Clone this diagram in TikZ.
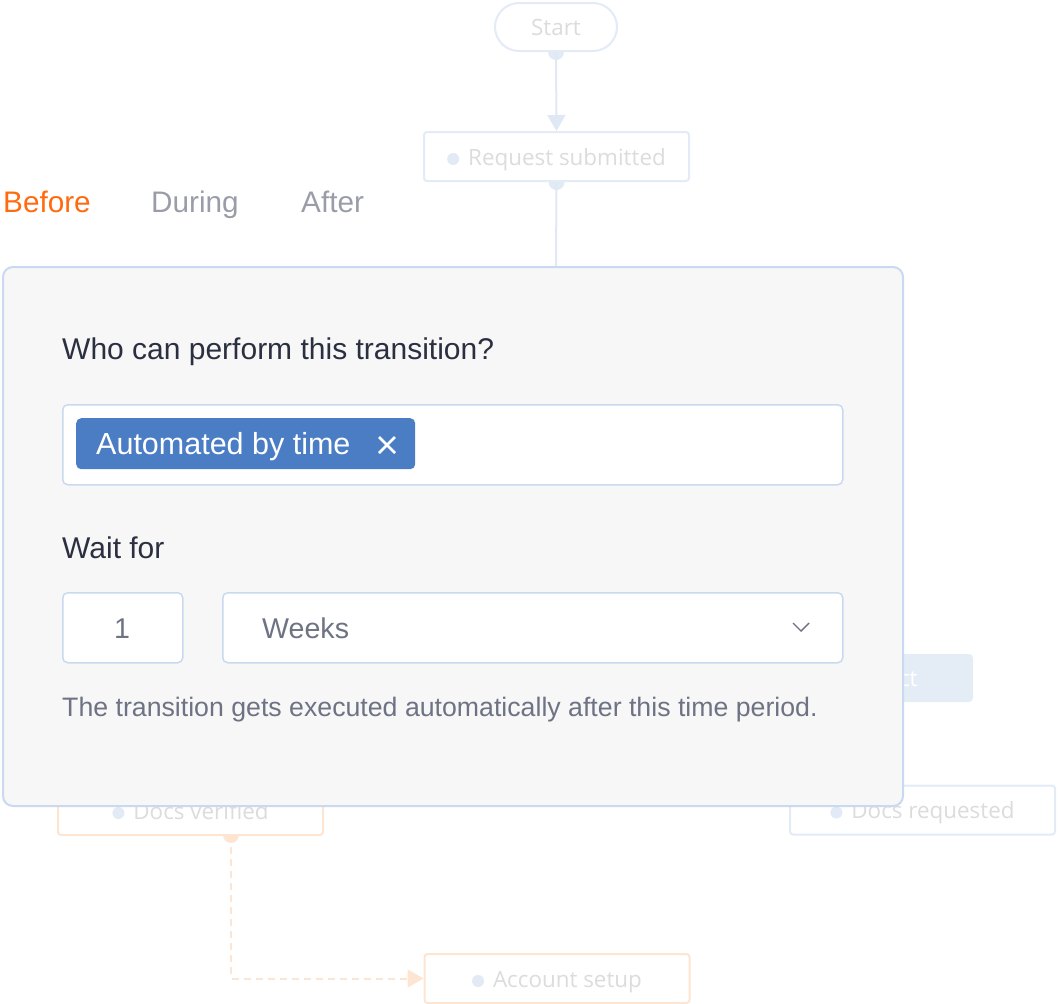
\documentclass[tikz,border=0pt]{standalone}
\usepackage{fontspec}
\setmainfont{Liberation Sans}
\newfontfamily\flowfont{Open Sans}
\usetikzlibrary{positioning,arrows.meta,backgrounds}

\definecolor{flowline}{HTML}{DFE8F4}
\definecolor{flowborder}{HTML}{E2EBF6}
\definecolor{flowtext}{HTML}{DCDCDC}
\definecolor{flowdot}{HTML}{E1EAF5}
\definecolor{peach}{HTML}{FDE5D2}
\definecolor{tabon}{HTML}{FF6A0E}
\definecolor{taboff}{HTML}{9A9DA8}
\definecolor{panelbg}{HTML}{F7F7F7}
\definecolor{panelline}{HTML}{C9DAF0}
\definecolor{darktext}{HTML}{2B3040}
\definecolor{greytext}{HTML}{6E7384}
\definecolor{chipblue}{HTML}{4A7DC4}
\definecolor{btnfill}{HTML}{E4ECF6}

\newcommand{\stdot}{{\tikz[baseline=-0.5ex]\fill[flowdot] (0,0) circle (6pt);}\hspace{9pt}}

\tikzset{
	state/.style={draw=flowborder,line width=2pt,fill=white,rounded corners=3pt,
		minimum width=265pt,minimum height=49pt,inner sep=0pt,text height=17pt,text depth=0pt,
		font=\flowfont\fontsize{22.4}{26}\selectfont,text=flowtext},
	field/.style={draw=panelline,line width=1.5pt,fill=white,rounded corners=5pt,
		anchor=north west,inner sep=0pt},
	label/.style={anchor=base west,inner sep=0pt,font=\fontsize{30}{34}\selectfont,text=darktext},
	tab/.style={anchor=base west,inner sep=0pt,font=\fontsize{29.7}{34}\selectfont,text=taboff},
	flow/.style={flowline,line width=2pt},
}

\begin{document}
\begin{tikzpicture}[x=1pt,y=-1pt]
	\useasboundingbox (0,0) rectangle (1058,1004);
	% flow chart behind the panel
	\node (start) [state,rounded corners=24pt,minimum width=122pt,minimum height=48pt] at (556,27) {Start};
	\node (req) [state] at (556.5,156.5) {\stdot Request submitted};
	\node (reject) [fill=btnfill,rounded corners=4pt,minimum width=174pt,minimum height=48pt,text height=17pt,text depth=0pt,
		font=\flowfont\fontsize{22.4}{26}\selectfont,text=white] at (886,678) {Reject};
	\node (verified) [state,draw=peach] at (190.5,810.5) {\stdot Docs verified};
	\node (requested) [state] at (922.5,810) {\stdot Docs requested};
	\node (acct) [state,draw=peach] at (557,978.5) {\stdot Account setup};
	\coordinate (reqdown) at (556,268);
	\coordinate (vout) at (231,835);
	\begin{scope}[on background layer]
		\fill[flowdot] (start.south) circle (8);
		\fill[flowdot] (req.south) circle (8);
		\fill[peach] (vout) circle (8);
		\draw[flow,-{Triangle[length=16pt,width=18pt]}] (start.south) -- (req.north);
		\draw[flow] (req.south) -- (reqdown);
		\draw[peach,line width=2pt,dash pattern=on 7pt off 5pt,-{Triangle[length=16pt,width=18pt]}] (vout) |- (acct.west);
	\end{scope}
	% tabs
	\node (before) [tab,text=tabon] at (3,212) {Before};
	\node (during) [tab] at (151,212) {During};
	\node (after) [tab] at (301,212) {After};
	% settings panel
	\node (panel) [draw=panelline,line width=2pt,fill=panelbg,rounded corners=10pt,anchor=north west,
		minimum width=900pt,minimum height=539pt] at (2,266) {};
	\node (who) [label] at (62,359) {Who can perform this transition?};
	\node (input) [field,minimum width=780pt,minimum height=80pt] at (62,404) {};
	\node (chip) [fill=chipblue,rounded corners=5pt,anchor=north west,minimum width=339pt,minimum height=51pt] at (76,418) {};
	\node (chiptext) [label,font=\fontsize{30.5}{34}\selectfont,text=white] at (96,454) {Automated by time};
	\draw[white,line width=2.6pt] (379,437) -- (395,453) (395,437) -- (379,453);
	\node (wait) [label] at (62,558) {Wait for};
	\node (num) [field,minimum width=120pt,minimum height=70pt] at (62,592) {};
	\node (numtext) [anchor=base,inner sep=0pt,font=\fontsize{28.6}{32}\selectfont,text=greytext] at (122,638) {1};
	\node (unit) [field,minimum width=620pt,minimum height=70pt] at (222,592) {};
	\node (unittext) [label,font=\fontsize{28.6}{32}\selectfont,text=greytext] at (262,638) {Weeks};
	\draw[greytext,line width=1.4pt] (793,623) -- (801,631) -- (809,623);
	\node (help) [label,font=\fontsize{26.7}{30}\selectfont,text=greytext] at (62,716) {The transition gets executed automatically after this time period.};
\end{tikzpicture}
\end{document}
